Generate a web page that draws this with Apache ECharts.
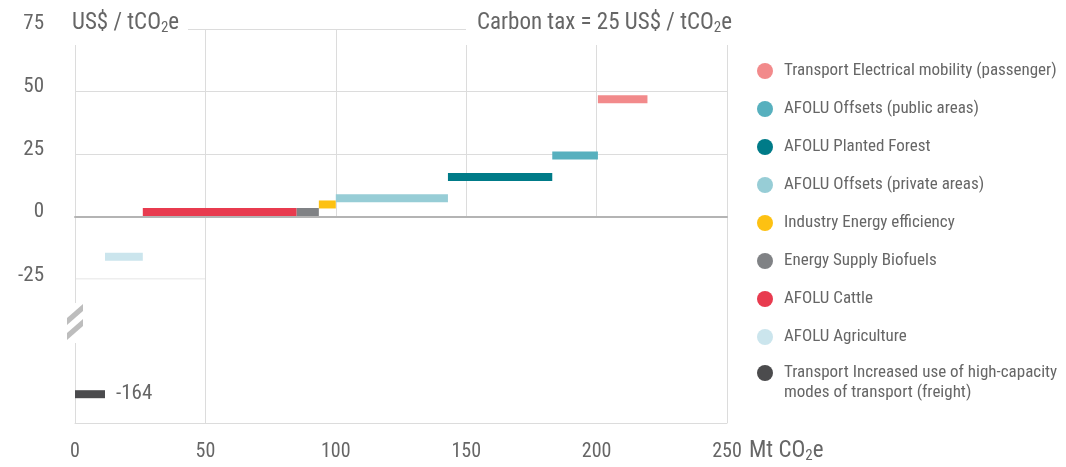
<!DOCTYPE html>
<html>
<head>
<meta charset="utf-8">
<script src="https://cdn.jsdelivr.net/npm/echarts@6/dist/echarts.min.js"></script>
<style>
html,body{margin:0;padding:0;background:#fff;}
#chart{width:1066px;height:467px;}
</style>
</head>
<body>
<div id="chart"></div>
<script>
// ---- data ----
const measures = [
  'Transport Increased use of high-capacity\nmodes of transport (freight)',
  'AFOLU Agriculture',
  'AFOLU Cattle',
  'Energy Supply Biofuels',
  'Industry Energy efficiency',
  'AFOLU Offsets (private areas)',
  'AFOLU Planted Forest',
  'AFOLU Offsets (public areas)',
  'Transport Electrical mobility (passenger)'
];
const potentials = [11.5, 14.5, 59, 8.5, 6.5, 43, 40, 17.5, 19]; // Mt CO2e
const costs = [-164, -16, 2, 2, 5, 7.5, 16, 24.5, 47];          // US$ / tCO2e
const colors = ['#4b4b4d', '#cbe5ed', '#e83b4f', '#808285', '#fdc112', '#97cdd6', '#007b88', '#57b0be', '#f28a8b'];
const xTickLabels = ['0', '50', '100', '150', '200', '250'];
const yTickLabels = ['-25', '0', '25', '50', '75'];

const FF = "'Liberation Sans Narrow', 'Arial Narrow', 'Roboto Condensed', 'Liberation Sans', sans-serif";
const TXT = '#666';
const GRID = '#dcdcdc';
const NONE = 'rgba(0,0,0,0)';

// cumulative start/end
const segs = [];
let acc = 0;
potentials.forEach((p, i) => { segs.push([acc, acc + p, costs[i]]); acc += p; });
const gridOf = costs.map(c => c < -100 ? 2 : (c < 0 ? 1 : 0));

function renderSeg(withLabel) {
  return function (params, api) {
    const x0 = api.value(0), x1 = api.value(1), y = api.value(2);
    const p0 = api.coord([x0, y]);
    const p1 = api.coord([x1, y]);
    const h = 8;
    const children = [{
      type: 'rect',
      shape: { x: p0[0], y: p0[1] - h / 2, width: p1[0] - p0[0], height: h },
      style: { fill: api.visual('color') }
    }];
    if (withLabel) {
      children.push({
        type: 'text',
        style: { text: String(y), x: p1[0] + 11, y: p1[1], fill: TXT, fontSize: 21, fontFamily: FF, align: 'left', verticalAlign: 'middle' }
      });
    }
    return { type: 'group', children };
  };
}

const series = measures.map((name, i) => ({
  name,
  type: 'custom',
  xAxisIndex: gridOf[i],
  yAxisIndex: gridOf[i],
  renderItem: renderSeg(i === 0),
  itemStyle: { color: colors[i] },
  encode: { x: [0, 1], y: 2 },
  data: [segs[i]],
  z: 5
}));
// short -25 gridline segment (0..50) in the middle band
series.push({
  type: 'line', xAxisIndex: 1, yAxisIndex: 1, symbol: 'none', silent: true,
  lineStyle: { color: GRID, width: 1 }, data: [[0, -25], [50, -25]], z: 1
});

const lowerSplitColors = [GRID, GRID, NONE, NONE, NONE, GRID];
const richUnit = {
  a: { fontSize: 23, fontFamily: FF, fill: TXT, lineHeight: 26 },
  s: { fontSize: 15, fontFamily: FF, fill: TXT, lineHeight: 26, padding: [10, 0, 0, 0] }
};

const chart = echarts.init(document.getElementById('chart'), null, { renderer: 'canvas' });
chart.setOption({
  animation: false,
  backgroundColor: '#fff',
  grid: [
    { left: 75, top: 29, width: 652, height: 188 },
    { left: 75, top: 217, width: 652, height: 62 },
    { left: 75, top: 279, width: 652, height: 144 }
  ],
  xAxis: [
    { gridIndex: 0, type: 'value', min: 0, max: 250, interval: 50,
      axisLabel: { show: false }, axisTick: { show: false },
      axisLine: { show: true, onZero: false, lineStyle: { color: '#b4b4b4', width: 2 } },
      splitLine: { show: true, lineStyle: { color: GRID, width: 1 } } },
    { gridIndex: 1, type: 'value', min: 0, max: 250, interval: 50,
      axisLabel: { show: false }, axisTick: { show: false }, axisLine: { show: false },
      splitLine: { show: true, lineStyle: { color: lowerSplitColors, width: 1 } } },
    { gridIndex: 2, type: 'value', min: 0, max: 250, interval: 50,
      axisTick: { show: false },
      axisLine: { show: true, onZero: false, lineStyle: { color: GRID, width: 1 } },
      axisLabel: { show: true, color: TXT, fontSize: 20, fontFamily: FF, margin: 19,
        formatter: (v) => xTickLabels[Math.round(v / 50)] },
      splitLine: { show: true, lineStyle: { color: lowerSplitColors, width: 1 } } }
  ],
  yAxis: [
    { gridIndex: 0, type: 'value', min: 0, max: 75, interval: 25,
      axisLine: { show: false }, axisTick: { show: false },
      axisLabel: { color: TXT, fontSize: 21, fontFamily: FF, margin: 31, verticalAlign: 'bottom', lineHeight: 10,
        formatter: (v) => yTickLabels[Math.round(v / 25) + 1] },
      splitLine: { show: true, lineStyle: { color: GRID, width: 1 } } },
    { gridIndex: 1, type: 'value', min: -25, max: 0, interval: 25,
      axisLine: { show: false }, axisTick: { show: false },
      axisLabel: { color: TXT, fontSize: 21, fontFamily: FF, margin: 31, verticalAlign: 'bottom', lineHeight: 7,
        formatter: (v) => v === -25 ? yTickLabels[0] : '' },
      splitLine: { show: false } },
    { gridIndex: 2, type: 'value', min: -175, max: -120,
      axisLine: { show: false }, axisTick: { show: false }, axisLabel: { show: false },
      splitLine: { show: false } }
  ],
  legend: [
    { orient: 'vertical', left: 757, top: 61, padding: 0, itemGap: 18,
      itemWidth: 16, itemHeight: 16, icon: 'circle',
      textStyle: { color: TXT, fontSize: 17, fontFamily: FF, lineHeight: 20, padding: [0, 0, 0, 6] },
      data: measures.slice(1).reverse() },
    { orient: 'vertical', left: 757, top: 343, padding: 0,
      itemWidth: 16, itemHeight: 16, icon: 'circle',
      formatter: (name) => '\n' + name,
      textStyle: { color: TXT, fontSize: 17, fontFamily: FF, lineHeight: 20, padding: [0, 0, 0, 6] },
      data: [measures[0]] }
  ],
  graphic: { elements: [
    { type: 'rect', z: 100, shape: { x: 62, y: 0, width: 126, height: 45 }, style: { fill: '#fff' } },
    { type: 'rect', z: 100, shape: { x: 466, y: 0, width: 290, height: 45 }, style: { fill: '#fff' } },
    { type: 'text', z: 101, left: 72, top: 11,
      style: { text: '{a|US$ / tCO}{s|2}{a|e}', rich: richUnit } },
    { type: 'text', z: 101, left: 477, top: 11,
      style: { text: '{a|Carbon tax = 25 US$ / tCO}{s|2}{a|e}', rich: richUnit } },
    { type: 'text', z: 101, left: 749, top: 439,
      style: { text: '{a|Mt CO}{s|2}{a|e}', rich: richUnit } },
    { type: 'rect', z: 100, shape: { x: 68, y: 303, width: 14, height: 40 }, style: { fill: '#fff' } },
    { type: 'polygon', z: 101, shape: { points: [[67, 318], [83, 304], [83, 311], [67, 325]] }, style: { fill: '#bdbdbd' } },
    { type: 'polygon', z: 101, shape: { points: [[67, 333], [83, 319], [83, 326], [67, 340]] }, style: { fill: '#bdbdbd' } }
  ] },
  series
});
</script>
</body>
</html>
